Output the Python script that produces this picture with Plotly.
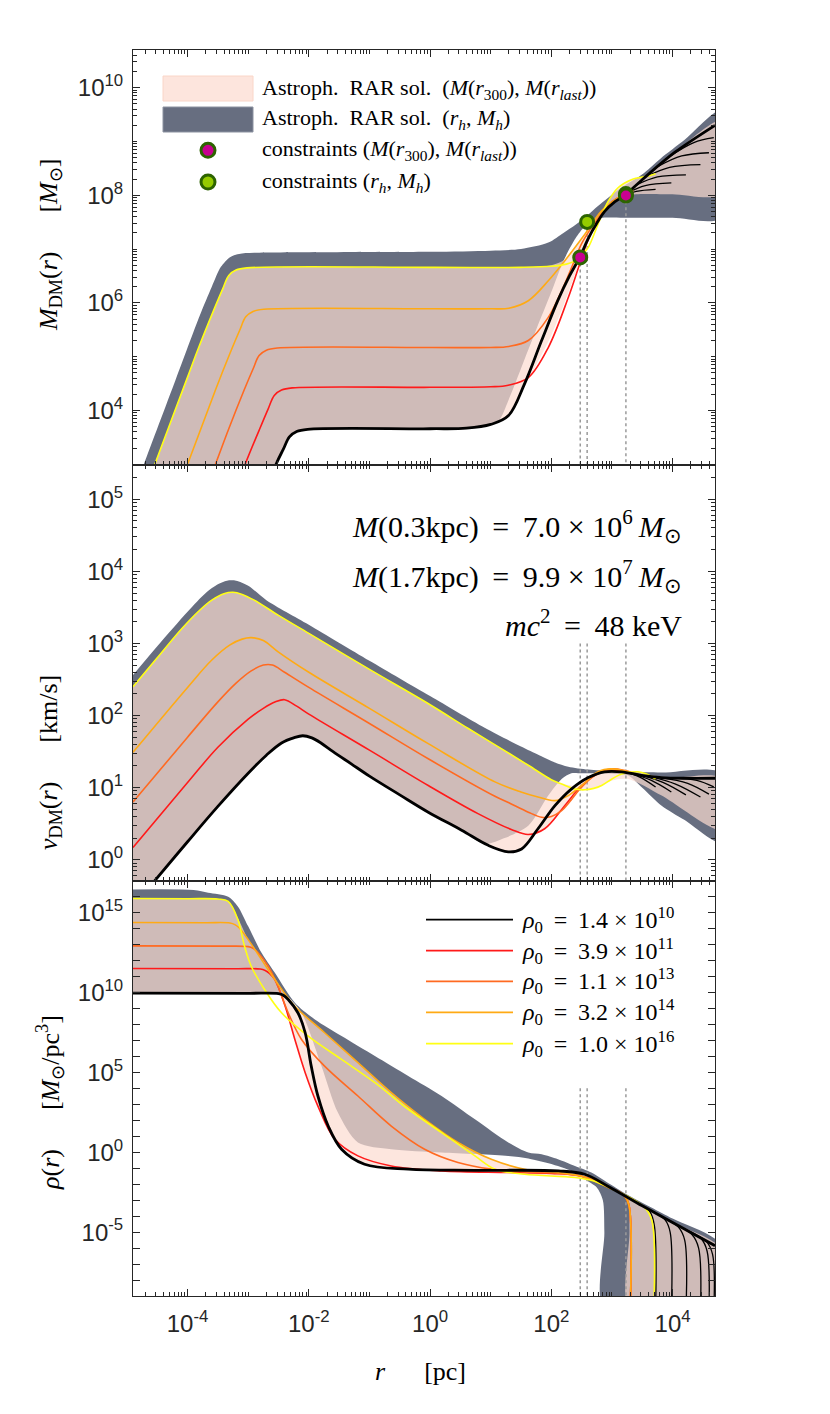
import numpy as np
import plotly.graph_objects as go
from plotly.subplots import make_subplots

# ===================== DATA (log10 values) =====================
# x values are log10(r / pc)

# ---------- Panel 1 : M_DM(r) [M_sun] (log10) ----------
lr_M_black = [-4.9, -3.5, -2.54, -2.42, -2.32, -2.2, -2.02, 0.0, 0.6, 1.0, 1.29, 1.56, 1.84, 2.11, 2.3, 2.47, 2.61, 2.75, 2.88, 3.05, 3.21, 3.49, 4.04, 4.7]
lM_black = [-4.08, 0.12, 3.0, 3.28, 3.51, 3.61, 3.65, 3.66, 3.67, 3.74, 3.9, 4.5, 5.3, 6.05, 6.5, 6.85, 7.2, 7.48, 7.7, 7.88, 8.0, 8.28, 8.8, 9.3]
lr_M_red = [-4.9, -3.5, -3.05, -2.82, -2.67, -2.57, -2.45, -2.27, 0.0, 1.0, 1.29, 1.62, 1.95, 2.28, 2.45, 2.6, 2.8, 3.0, 3.2, 3.35]
lM_red = [-2.55, 1.65, 3.0, 3.63, 4.03, 4.28, 4.38, 4.42, 4.43, 4.44, 4.47, 4.61, 5.17, 6.1, 6.66, 7.15, 7.6, 7.85, 8.0, 8.08]
lr_M_dorange = [-4.9, -4.2, -3.54, -3.32, -3.07, -2.92, -2.82, -2.7, -2.52, 0.0, 1.0, 1.3, 1.62, 1.95, 2.2, 2.35, 2.5, 2.65, 2.8, 3.0, 3.2, 3.35]
lM_dorange = [-1.08, 1.02, 3.0, 3.66, 4.37, 4.77, 5.02, 5.12, 5.16, 5.17, 5.17, 5.19, 5.3, 5.73, 6.3, 6.7, 7.1, 7.38, 7.62, 7.88, 8.02, 8.1]
lr_M_orange = [-4.9, -4.0, -3.54, -3.29, -3.14, -3.04, -2.92, -2.74, 0.0, 1.0, 1.3, 1.62, 1.95, 2.22, 2.55, 2.83, 3.1, 3.25, 3.35]
lM_orange = [0.3, 3.0, 4.38, 5.09, 5.49, 5.74, 5.84, 5.88, 5.89, 5.89, 5.9, 6.04, 6.41, 6.78, 7.27, 7.71, 7.95, 8.05, 8.1]
lr_M_yellow = [-4.9, -4.54, -4.0, -3.82, -3.57, -3.42, -3.32, -3.2, -3.02, 0.0, 1.5, 2.0, 2.25, 2.39, 2.5, 2.61, 2.77, 2.94, 3.1, 3.32, 3.6, 3.72]
lM_yellow = [1.92, 3.0, 4.62, 5.16, 5.86, 6.26, 6.51, 6.61, 6.65, 6.66, 6.66, 6.68, 6.72, 6.78, 6.88, 7.03, 7.46, 7.89, 8.14, 8.29, 8.36, 8.4]
lr_M_branches = [[3.15, 3.4, 3.72], [3.25, 3.55, 3.98], [3.4, 3.75, 4.22], [3.55, 3.95, 4.46], [3.75, 4.15, 4.6], [3.95, 4.35, 4.68]]
lM_branches = [[7.96, 8.07, 8.11], [8.04, 8.18, 8.23], [8.19, 8.34, 8.38], [8.34, 8.52, 8.57], [8.53, 8.73, 8.79], [8.72, 8.98, 9.07]]
lr_M_grey_top = [-4.9, -4.72, -4.2, -3.8, -3.6, -3.45, -3.3, -3.15, -2.9, 0.0, 1.0, 1.5, 1.95, 2.2, 2.4, 2.59, 2.77, 3.1, 3.49, 3.8, 4.2, 4.8]
lM_grey_top = [2.46, 3.0, 4.56, 5.76, 6.3, 6.67, 6.85, 6.91, 6.93, 6.95, 6.97, 7.0, 7.12, 7.3, 7.45, 7.62, 7.8, 8.1, 8.38, 8.68, 9.03, 9.57]
lr_M_grey_bot = [-4.9, -3.5, -2.54, -2.42, -2.32, -2.2, -2.02, 0.0, 0.6, 1.0, 1.14, 1.29, 1.5, 1.75, 2.0, 2.2, 2.4, 2.55, 2.7, 2.85, 3.2, 4.0, 4.8]
lM_grey_bot = [-4.08, 0.12, 3.0, 3.28, 3.51, 3.61, 3.65, 3.66, 3.67, 3.74, 3.82, 4.18, 4.78, 5.5, 6.2, 6.78, 7.2, 7.42, 7.54, 7.58, 7.58, 7.58, 7.58]
lr_M_peach_top = [-4.9, -4.54, -4.0, -3.82, -3.57, -3.42, -3.32, -3.2, -3.02, 0.0, 1.5, 2.0, 2.22, 2.55, 2.83, 2.94, 3.1, 3.32, 3.6, 4.04, 4.8]
lM_peach_top = [1.92, 3.0, 4.62, 5.16, 5.86, 6.26, 6.51, 6.61, 6.65, 6.66, 6.66, 6.7, 6.8, 7.27, 7.71, 7.89, 8.14, 8.29, 8.38, 8.8, 9.38]
lr_M_peach_bot = [-4.9, -3.5, -2.54, -2.42, -2.32, -2.2, -2.02, 0.0, 0.6, 1.0, 1.29, 1.56, 1.8, 2.0, 2.2, 2.35, 2.47, 2.61, 2.75, 2.88, 3.05, 3.21, 3.4, 4.0, 4.8]
lM_peach_bot = [-4.08, 0.12, 3.0, 3.28, 3.51, 3.61, 3.65, 3.66, 3.67, 3.74, 3.88, 4.45, 4.95, 5.4, 5.95, 6.4, 6.8, 7.2, 7.48, 7.68, 7.86, 7.98, 8.02, 8.02, 8.02]

# constraints
r_c_last = [300, 1700]          # (M(r300), M(rlast)) [pc]
M_c_last = [7.0e6, 9.9e7]
r_c_h = [390, 1700]             # (r_h, M_h)
M_c_h = [3.2e7, 1.05e8]
r_dotted = [300, 390, 1700]
M_dotted_top = [7.0e6, 3.2e7, 1.0e8]
v_dotted_top = 1.0e3
rho_dotted_top = 1.0e4

# ---------- Panel 2 : v_DM(r) [km/s] (log10) ----------
lr_v_black = [-4.9, -4.54, -4.0, -3.5, -3.0, -2.7, -2.45, -2.25, -2.1, -1.95, -1.8, -1.6, -1.3, -1.0, -0.5, -0.03, 0.52, 0.96, 1.29, 1.51, 1.78, 2.06, 2.33, 2.61, 2.88, 3.16, 3.49, 3.82, 4.2, 4.7]
lv_black = [-0.65, -0.29, 0.25, 0.74, 1.2, 1.45, 1.62, 1.69, 1.72, 1.69, 1.62, 1.5, 1.33, 1.16, 0.9, 0.66, 0.41, 0.2, 0.11, 0.15, 0.43, 0.75, 0.98, 1.14, 1.22, 1.22, 1.17, 1.14, 1.13, 1.13]
lr_v_red = [-4.9, -4.0, -3.5, -3.0, -2.75, -2.55, -2.4, -2.2, -2.0, -1.0, -0.03, 0.79, 1.34, 1.62, 1.89, 2.22, 2.5, 2.83, 3.1, 3.35]
lv_red = [0.17, 1.07, 1.56, 1.95, 2.1, 2.19, 2.22, 2.13, 2.02, 1.52, 1.03, 0.64, 0.42, 0.35, 0.43, 0.75, 1.03, 1.22, 1.24, 1.2]
lr_v_dorange = [-4.9, -4.0, -3.5, -3.2, -2.95, -2.75, -2.6, -2.4, -2.0, -1.0, -0.03, 1.07, 1.3, 1.62, 1.84, 2.0, 2.17, 2.3, 2.45, 2.6, 2.72, 2.99, 3.2, 3.35]
lv_dorange = [0.8, 1.7, 2.19, 2.45, 2.62, 2.7, 2.7, 2.6, 2.39, 1.89, 1.4, 0.88, 0.79, 0.66, 0.59, 0.6, 0.68, 0.8, 0.96, 1.09, 1.17, 1.26, 1.24, 1.2]
lr_v_orange = [-4.9, -4.0, -3.6, -3.3, -3.1, -2.95, -2.75, -2.5, -2.0, -1.0, -0.03, 1.07, 1.5, 1.78, 2.06, 2.28, 2.5, 2.77, 2.99, 3.27, 3.35]
lv_orange = [1.49, 2.39, 2.77, 2.98, 3.06, 3.08, 3.04, 2.88, 2.6, 2.1, 1.61, 1.08, 0.94, 0.87, 0.82, 0.89, 1.03, 1.22, 1.26, 1.22, 1.2]
lr_v_yellow = [-4.9, -4.5, -4.1, -3.8, -3.6, -3.4, -3.25, -3.1, -2.9, -2.5, -2.0, -1.0, 0.0, 0.63, 1.1, 1.62, 2.0, 2.17, 2.39, 2.55, 2.7, 2.83, 3.0, 3.16, 3.43, 3.57, 3.72]
lv_yellow = [2.4, 2.8, 3.2, 3.46, 3.6, 3.69, 3.71, 3.68, 3.6, 3.39, 3.14, 2.64, 2.15, 1.82, 1.58, 1.31, 1.11, 1.05, 0.98, 0.97, 0.99, 1.03, 1.12, 1.19, 1.22, 1.19, 1.12]
lr_v_branches = [[3.2, 3.45, 3.72], [3.3, 3.65, 3.98], [3.45, 3.85, 4.22], [3.6, 4.05, 4.46], [3.8, 4.25, 4.6], [4.0, 4.4, 4.68]]
lv_branches = [[1.22, 1.15, 1.01], [1.2, 1.1, 0.94], [1.18, 1.07, 0.9], [1.16, 1.05, 0.87], [1.14, 1.06, 0.91], [1.135, 1.1, 1.01]]
lr_v_grey_top = [-5.0, -4.5, -4.0, -3.7, -3.5, -3.35, -3.2, -3.0, -2.7, -2.0, -1.0, 0.0, 0.9, 1.5, 1.8, 2.06, 2.28, 2.61, 2.99, 3.3, 3.82, 4.8]
lv_grey_top = [2.46, 2.96, 3.44, 3.7, 3.82, 3.87, 3.87, 3.8, 3.6, 3.26, 2.76, 2.27, 1.83, 1.57, 1.45, 1.35, 1.29, 1.25, 1.23, 1.22, 1.21, 1.2]
lr_v_grey_bot = [-4.9, -4.54, -4.0, -3.5, -3.0, -2.7, -2.45, -2.25, -2.1, -1.95, -1.8, -1.6, -1.3, -1.0, -0.5, -0.03, 0.52, 0.9, 1.23, 1.62, 1.95, 2.17, 2.33, 2.5, 2.8, 3.05, 3.27, 3.5, 3.82, 4.2, 4.8]
lv_grey_bot = [-0.65, -0.29, 0.25, 0.74, 1.2, 1.45, 1.62, 1.69, 1.72, 1.69, 1.62, 1.5, 1.33, 1.16, 0.9, 0.66, 0.41, 0.22, 0.3, 0.47, 0.89, 1.12, 1.2, 1.2, 1.2, 1.19, 1.17, 1.0, 0.75, 0.55, 0.24]
lr_v_peach_top = [-5.0, -4.5, -4.1, -3.8, -3.6, -3.4, -3.25, -3.1, -2.9, -2.5, -2.0, -1.0, 0.0, 0.63, 1.1, 1.62, 2.0, 2.2, 2.4, 2.61, 2.77, 2.99, 3.2, 3.43, 3.6, 4.0, 4.8]
lv_peach_top = [2.3, 2.8, 3.2, 3.46, 3.6, 3.69, 3.71, 3.68, 3.6, 3.39, 3.14, 2.64, 2.15, 1.82, 1.58, 1.31, 1.11, 1.05, 1.03, 1.14, 1.22, 1.26, 1.24, 1.22, 1.18, 1.14, 1.13]
lr_v_peach_bot = [-4.9, -4.54, -4.0, -3.5, -3.0, -2.7, -2.45, -2.25, -2.1, -1.95, -1.8, -1.6, -1.3, -1.0, -0.5, -0.03, 0.52, 0.96, 1.29, 1.51, 1.7, 1.89, 2.06, 2.22, 2.39, 2.55, 2.7, 2.83, 3.0, 3.27, 3.82, 4.8]
lv_peach_bot = [-0.65, -0.29, 0.25, 0.74, 1.2, 1.45, 1.62, 1.69, 1.72, 1.69, 1.62, 1.5, 1.33, 1.16, 0.9, 0.66, 0.41, 0.2, 0.11, 0.15, 0.33, 0.43, 0.6, 0.75, 0.96, 0.97, 0.99, 1.03, 1.1, 1.12, 0.89, 0.42]

# ---------- Panel 3 : rho(r) [M_sun/pc^3] (log10) ----------
lr_rho_black = [-4.9, -3.0, -2.5, -2.42, -2.34, -2.18, -2.06, -1.96, -1.85, -1.68, -1.46, -1.08, -0.36, 0.74, 2.12, 2.55, 2.94, 3.5, 4.0, 4.7]
lrho_black = [9.96, 9.95, 9.93, 9.83, 9.56, 8.73, 7.48, 5.39, 3.52, 1.64, 0.19, -0.75, -1.06, -1.13, -1.17, -1.38, -2.14, -3.35, -4.4, -5.85]
lr_rho_red = [-4.9, -3.2, -2.8, -2.72, -2.65, -2.56, -2.39, -2.23, -2.06, -1.85, -1.57, -1.19, -0.64, 0.19, 1.29, 2.0, 2.5, 2.94, 3.2, 3.28, 3.3]
lrho_red = [11.5, 11.49, 11.47, 11.38, 11.2, 10.81, 9.14, 7.06, 4.98, 2.89, 0.81, -0.23, -0.86, -1.17, -1.27, -1.33, -1.5, -2.19, -2.7, -3.3, -10]
lr_rho_dorange = [-4.9, -3.4, -3.0, -2.92, -2.85, -2.67, -2.51, -2.34, -2.12, -1.74, -1.19, -0.64, -0.09, 0.46, 1.01, 1.56, 2.2, 2.6, 2.94, 3.2, 3.28, 3.3]
lrho_dorange = [12.92, 12.9, 12.87, 12.77, 12.55, 11.64, 10.39, 8.73, 7.06, 5.39, 3.52, 1.64, 0.19, -0.64, -1.06, -1.23, -1.35, -1.6, -2.19, -2.7, -3.3, -10]
lr_rho_orange = [-4.9, -3.7, -3.3, -3.22, -3.15, -3.0, -2.78, -2.56, -2.23, -1.74, -1.19, -0.64, -0.09, 0.46, 1.01, 1.56, 2.12, 2.5, 2.94, 3.2, 3.28, 3.3]
lrho_orange = [14.38, 14.37, 14.35, 14.25, 14.05, 13.31, 12.06, 10.81, 9.14, 7.48, 5.61, 3.73, 2.06, 0.61, -0.44, -1.06, -1.27, -1.5, -2.19, -2.7, -3.3, -10]
lr_rho_yellow = [-4.9, -4.0, -3.5, -3.33, -3.17, -3.06, -2.95, -2.73, -2.45, -2.01, -1.46, -0.91, -0.36, 0.19, 0.74, 1.07, 1.56, 2.39, 2.7, 2.94, 3.3, 3.55, 3.66, 3.69]
lrho_yellow = [15.88, 15.87, 15.85, 15.7, 14.56, 12.89, 11.64, 10.19, 8.73, 7.27, 5.81, 4.36, 2.69, 1.23, -0.23, -1.06, -1.38, -1.58, -1.8, -2.19, -2.85, -3.5, -4.3, -10]
lr_rho_branches = [[3.45, 3.63, 3.7, 3.72], [3.7, 3.88, 3.96, 3.98], [3.9, 4.1, 4.2, 4.22], [4.1, 4.32, 4.43, 4.46], [4.25, 4.47, 4.57, 4.6], [4.35, 4.56, 4.66, 4.68]]
lrho_branches = [[-3.24, -3.75, -4.6, -10], [-3.77, -4.25, -5.0, -10], [-4.19, -4.7, -5.5, -10], [-4.61, -5.15, -6.0, -10], [-4.92, -5.4, -6.2, -10], [-5.13, -5.6, -6.4, -10]]
lr_rho_grey_top = [-5.0, -3.9, -3.66, -3.33, -3.17, -3.0, -2.78, -2.56, -2.23, -1.9, -1.46, -0.91, -0.36, 0.19, 0.74, 1.29, 1.62, 1.84, 2.11, 2.39, 2.66, 2.95, 3.3, 4.0, 4.8]
lrho_grey_top = [16.45, 16.42, 16.25, 16.0, 15.39, 14.14, 12.48, 11.23, 9.36, 8.31, 7.27, 6.02, 4.77, 3.52, 2.06, 0.61, -0.02, -0.13, -0.44, -0.86, -1.27, -1.95, -2.75, -4.15, -5.8]
lr_rho_grey_bot = [-5.0, -3.0, -2.5, -2.42, -2.34, -2.12, -1.79, -1.52, -1.19, -0.64, 0.19, 1.29, 1.62, 2.11, 2.39, 2.55, 2.75, 2.85, 2.875, 2.885, 4.8]
lrho_grey_bot = [9.96, 9.95, 9.93, 9.86, 9.7, 8.73, 5.39, 2.48, 0.61, 0.19, -0.02, -0.23, -0.39, -0.86, -1.27, -1.69, -2.2, -3.0, -5.0, -10, -10]
lr_rho_peach_top = [-5.0, -4.0, -3.5, -3.33, -3.2, -3.1, -3.0, -2.78, -2.56, -2.34, -2.1, -1.74, -1.19, -0.64, -0.09, 0.46, 1.01, 1.56, 2.12, 2.55, 2.94, 3.5, 4.0, 4.8]
lrho_peach_top = [15.88, 15.87, 15.85, 15.7, 14.9, 14.1, 13.31, 12.2, 10.9, 9.6, 8.7, 7.48, 5.61, 3.73, 2.06, 0.61, -0.44, -1.06, -1.17, -1.38, -2.14, -3.35, -4.4, -6.05]
lr_rho_peach_bot = [-5.0, -3.0, -2.5, -2.42, -2.34, -2.23, -2.06, -1.85, -1.57, -1.3, -1.08, -0.6, 0.19, 1.29, 1.56, 2.39, 2.7, 2.94, 3.2, 3.27, 3.29, 3.3, 4.8]
lrho_peach_bot = [9.96, 9.95, 9.93, 9.5, 8.6, 7.06, 4.98, 2.89, 0.81, -0.2, -0.75, -1.0, -1.17, -1.27, -1.38, -1.58, -1.8, -2.19, -2.7, -3.1, -5.0, -10, -10]

# legend values
rho0_mantissa = ["1.4", "3.9", "1.1", "3.2", "1.0"]
rho0_exponent = [10, 11, 13, 14, 16]

# axis tick exponents (labelled / unlabelled decades)
x_lab = [-4, -2, 0, 2, 4]
x_unl = [-5, -3, -1, 1, 3]
yM_lab = [4, 6, 8, 10]
yM_unl = [3, 5, 7, 9]
yv_lab = [0, 1, 2, 3, 4, 5]
yrho_lab = [-5, 0, 5, 10, 15]
yrho_unl = [e for e in range(-9, 18) if e % 5 != 0]

# ===================== FIGURE =====================
W, H = 830, 1414
ML, MR, MT, MB = 125, 123, 42, 126


def P(a):
    return np.power(10.0, np.asarray(a, dtype=float))


def xp(px):
    return (px - ML) / (W - ML - MR)


def yp(py):
    return 1 - (py - MT) / (H - MT - MB)


GREY = 'rgb(103,110,128)'
PEACH = 'rgba(252,219,208,0.7)'
C_BLACK = '#000000'
C_RED = '#ff1a1a'
C_DOR = '#ff6a21'
C_OR = '#ffaa14'
C_YEL = '#ffff14'
MAGENTA = '#c80090'
LGREEN = '#96cc00'
DGREEN = '#2d6400'
AX = '#262626'
SERIF = 'Liberation Serif, Times New Roman, serif'
SANS = 'Liberation Sans, Arial, sans-serif'
NB = '\u00a0'
TH = '\u2009'

fig = make_subplots(rows=3, cols=1, shared_xaxes=True, vertical_spacing=0)


def band(row, xt, yt, xb, yb, color):
    x = list(xt) + list(xb)[::-1]
    y = list(yt) + list(yb)[::-1]
    fig.add_trace(go.Scatter(x=P(x), y=P(y), mode='lines', fill='toself', fillcolor=color,
                             line=dict(width=0, shape='spline', smoothing=0.8),
                             hoverinfo='skip', showlegend=False), row=row, col=1)


def curve(row, x, y, color, width=1.6):
    fig.add_trace(go.Scatter(x=P(x), y=P(y), mode='lines',
                             line=dict(color=color, width=width, shape='spline', smoothing=1.0),
                             hoverinfo='skip', showlegend=False), row=row, col=1)


def dotted(row, rs, tops, bottom):
    for r, t in zip(rs, tops):
        fig.add_trace(go.Scatter(x=[r, r], y=[t, bottom], mode='lines',
                                 line=dict(color='#9a9a9a', width=1.5, dash='dot'),
                                 hoverinfo='skip', showlegend=False), row=row, col=1)


# ---- panel 1
band(1, lr_M_grey_top, lM_grey_top, lr_M_grey_bot, lM_grey_bot, GREY)
band(1, lr_M_peach_top, lM_peach_top, lr_M_peach_bot, lM_peach_bot, PEACH)
dotted(1, r_dotted, M_dotted_top, 10.0)
for bx, by in zip(lr_M_branches, lM_branches):
    curve(1, bx, by, C_BLACK, 1.3)
curve(1, lr_M_red, lM_red, C_RED)
curve(1, lr_M_dorange, lM_dorange, C_DOR)
curve(1, lr_M_orange, lM_orange, C_OR)
curve(1, lr_M_yellow, lM_yellow, C_YEL)
curve(1, lr_M_black, lM_black, C_BLACK, 2.8)
fig.add_trace(go.Scatter(x=r_c_h, y=M_c_h, mode='markers',
                         marker=dict(size=13, color=LGREEN, line=dict(color=DGREEN, width=3)),
                         hoverinfo='skip', showlegend=False), row=1, col=1)
fig.add_trace(go.Scatter(x=r_c_last, y=M_c_last, mode='markers',
                         marker=dict(size=13, color=MAGENTA, line=dict(color=DGREEN, width=3)),
                         hoverinfo='skip', showlegend=False), row=1, col=1)

# ---- panel 2
band(2, lr_v_grey_top, lv_grey_top, lr_v_grey_bot, lv_grey_bot, GREY)
band(2, lr_v_peach_top, lv_peach_top, lr_v_peach_bot, lv_peach_bot, PEACH)
dotted(2, r_dotted, [v_dotted_top] * 3, 0.1)
for bx, by in zip(lr_v_branches, lv_branches):
    curve(2, bx, by, C_BLACK, 1.3)
curve(2, lr_v_red, lv_red, C_RED)
curve(2, lr_v_dorange, lv_dorange, C_DOR)
curve(2, lr_v_orange, lv_orange, C_OR)
curve(2, lr_v_yellow, lv_yellow, C_YEL)
curve(2, lr_v_black, lv_black, C_BLACK, 2.8)

# ---- panel 3
band(3, lr_rho_grey_top, lrho_grey_top, lr_rho_grey_bot, lrho_grey_bot, GREY)
band(3, lr_rho_peach_top, lrho_peach_top, lr_rho_peach_bot, lrho_peach_bot, PEACH)
dotted(3, r_dotted, [rho_dotted_top] * 3, 1e-10)
for bx, by in zip(lr_rho_branches, lrho_branches):
    curve(3, bx, by, C_BLACK, 1.3)
curve(3, lr_rho_red, lrho_red, C_RED)
curve(3, lr_rho_dorange, lrho_dorange, C_DOR)
curve(3, lr_rho_orange, lrho_orange, C_OR)
curve(3, lr_rho_yellow, lrho_yellow, C_YEL)
curve(3, lr_rho_black, lrho_black, C_BLACK, 2.8)


# ===================== AXES =====================
def sup(e):
    return '10<sup>%d</sup>' % e


def sub_decades(lo, hi):
    return [m * 10.0 ** e for e in range(lo, hi) for m in range(2, 10)]


tick_font = dict(family=SANS, size=24, color=AX)
common = dict(type='log', ticks='inside', ticklen=7, tickwidth=1, tickcolor=AX,
              showline=True, linecolor=AX, linewidth=1, mirror='allticks',
              showgrid=False, zeroline=False, tickfont=tick_font, tickmode='array')

for row in (1, 2, 3):
    fig.update_xaxes(range=[-4.9, 4.7], tickvals=[10.0 ** e for e in x_lab],
                     ticktext=[sup(e) for e in x_lab],
                     minor=dict(ticks='inside', ticklen=4, tickwidth=1, tickcolor=AX, tickmode='array',
                                tickvals=[10.0 ** e for e in x_unl] + sub_decades(-5, 5), showgrid=False),
                     showticklabels=(row == 3), ticklabelstandoff=6, row=row, col=1, **common)

fig.update_yaxes(range=[2.98, 10.7], tickvals=[10.0 ** e for e in yM_lab],
                 ticktext=[sup(e) for e in yM_lab],
                 minor=dict(ticks='inside', ticklen=4, tickwidth=1, tickcolor=AX, tickmode='array',
                            tickvals=[10.0 ** e for e in yM_unl] + sub_decades(2, 11), showgrid=False),
                 ticklabelstandoff=4, row=1, col=1, **common)
fig.update_yaxes(range=[-0.29, 5.47], tickvals=[10.0 ** e for e in yv_lab],
                 ticktext=[sup(e) for e in yv_lab],
                 minor=dict(ticks='inside', ticklen=4, tickwidth=1, tickcolor=AX, tickmode='array',
                            tickvals=sub_decades(-1, 6), showgrid=False),
                 ticklabelstandoff=4, row=2, col=1, **common)
fig.update_yaxes(range=[-9, 17], tickvals=[10.0 ** e for e in yrho_lab],
                 ticktext=[sup(e) for e in yrho_lab],
                 minor=dict(ticks='inside', ticklen=7, tickwidth=1, tickcolor=AX, tickmode='array',
                            tickvals=[10.0 ** e for e in yrho_unl], showgrid=False),
                 ticklabelstandoff=4, row=3, col=1, **common)

# ===================== TEXT / LEGENDS =====================
ann = []


def text(px, py, s, size=20, anchor='left', angle=0):
    ann.append(dict(x=xp(px), y=yp(py), xref='paper', yref='paper', text=s, showarrow=False,
                    xanchor=anchor, yanchor='middle', textangle=angle,
                    font=dict(family=SERIF, size=size, color='#000000')))


EQ = NB + TH + '=' + TH + NB
TIMES = NB + '×' + NB

# axis titles
text(42, 237, '<i>M</i><sub>DM</sub>(<i>r</i>)' + NB * 6 + '[<i>M</i><sub>⊙</sub>]', 26, 'center', -90)
text(42, 755, '<i>v</i><sub>DM</sub>(<i>r</i>)' + NB * 6 + '[km/s]', 26, 'center', -90)
text(42, 1095, '<i>ρ</i>(<i>r</i>)' + NB * 6 + '[<i>M</i><sub>⊙</sub>/pc<sup>3</sup>]', 26, 'center', -90)
text(412, 1363, '<i>r</i>' + NB * 6 + '[pc]', 26, 'center')

# panel 2 annotations
text(676, 518, '<i>M</i>(0.3kpc)' + EQ + '7.0' + TIMES + '10<sup>6</sup>' + TH + '<i>M</i><sub>⊙</sub>', 30, 'right')
text(676, 568, '<i>M</i>(1.7kpc)' + EQ + '9.9' + TIMES + '10<sup>7</sup>' + TH + '<i>M</i><sub>⊙</sub>', 30, 'right')
text(676, 615, '<i>mc</i><sup>2</sup>' + EQ + '48' + NB + 'keV', 30, 'right')

# panel 1 legend
shapes = []
shapes.append(dict(type='rect', xref='paper', yref='paper', x0=xp(155), x1=xp(245), y0=yp(93), y1=yp(68),
                   fillcolor='rgb(253,229,221)', line=dict(color='rgb(250,214,200)', width=1), layer='above'))
shapes.append(dict(type='rect', xref='paper', yref='paper', x0=xp(155), x1=xp(245), y0=yp(124), y1=yp(99),
                   fillcolor=GREY, line=dict(color='rgb(140,146,160)', width=1), layer='above'))
for cy, fc in [(142.3, MAGENTA), (174, LGREEN)]:
    shapes.append(dict(type='circle', xref='paper', yref='paper', xsizemode='pixel', ysizemode='pixel',
                       xanchor=xp(200), yanchor=yp(cy), x0=-7, x1=7, y0=-7, y1=7,
                       fillcolor=fc, line=dict(color=DGREEN, width=3), layer='above'))
lastsub = '<i>M</i>(<i>r</i><sub>300</sub>),' + NB + '<i>M</i>(<i>r</i><sub><i>last</i></sub>)'
hsub = '<i>r</i><sub><i>h</i></sub>,' + NB + '<i>M</i><sub><i>h</i></sub>'
text(252, 81, 'Astroph.' + NB * 2 + 'RAR' + NB + 'sol.' + NB * 2 + '(' + lastsub + ')', 22)
text(252, 111, 'Astroph.' + NB * 2 + 'RAR' + NB + 'sol.' + NB * 2 + '(' + hsub + ')', 22)
text(252, 142, 'constraints' + NB + '(' + lastsub + ')', 22)
text(252, 174, 'constraints' + NB + '(' + hsub + ')', 22)

# panel 3 legend
leg_rows = [911.7, 942.7, 973.3, 1004.3, 1035.7]
leg_cols = [C_BLACK, C_RED, C_DOR, C_OR, C_YEL]
for yy, cc, mant, ex in zip(leg_rows, leg_cols, rho0_mantissa, rho0_exponent):
    shapes.append(dict(type='line', xref='paper', yref='paper', x0=xp(418), x1=xp(505), y0=yp(yy), y1=yp(yy),
                       line=dict(color=cc, width=1.8), layer='above'))
    text(512, yy, '<i>ρ</i><sub>0</sub>' + EQ + mant + TIMES + '10<sup>%d</sup>' % ex, 24)

fig.update_layout(width=W, height=H, margin=dict(l=ML, r=MR, t=MT, b=MB, autoexpand=False),
                  paper_bgcolor='white', plot_bgcolor='white', showlegend=False,
                  annotations=ann, shapes=shapes, font=dict(family=SANS, color=AX))

fig.write_html("out.html")
